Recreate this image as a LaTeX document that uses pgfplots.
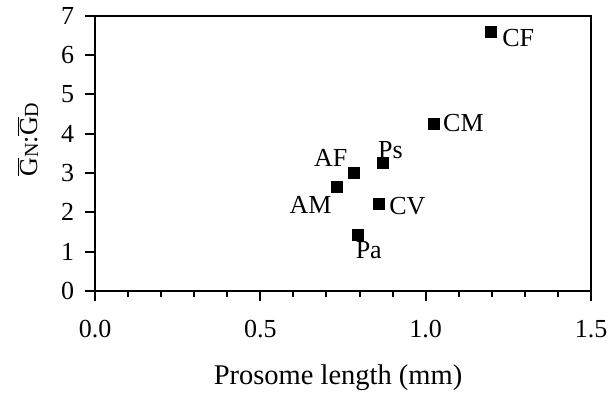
\documentclass[border=0pt]{standalone}
\usepackage{fontspec}
\setmainfont{Liberation Serif}
\usepackage{pgfplots}
\pgfplotsset{compat=1.18}
\begin{document}
\fontsize{26bp}{30bp}\selectfont
\begin{tikzpicture}[x=1bp,y=1bp]
\useasboundingbox (0,0) rectangle (613,396);
\begin{axis}[
  at={(95bp,105bp)}, anchor=south west,
  scale only axis, width=496bp, height=275.3bp,
  xmin=0, xmax=1.5, ymin=0, ymax=7,
  xtick={0,0.5,1,1.5}, minor x tick num=4,
  ytick={0,1,2,3,4,5,6,7},
  tick pos=left, tick align=outside,
  major tick length=10bp, minor tick length=6bp,
  axis line style={line width=2.2bp},
  every tick/.style={line width=2bp, black},
  every minor tick/.style={line width=2bp, black},
  /pgf/number format/assume math mode=true,
  xticklabel style={/pgf/number format/.cd, fixed, fixed zerofill, precision=1, /tikz/.cd, font=\fontsize{26bp}{30bp}\selectfont, yshift=-10bp},
  yticklabel style={font=\fontsize{26bp}{30bp}\selectfont, xshift=-2bp},
  xlabel={Prosome length (mm)},
  xlabel style={at={(axis description cs:0.49,-0.316)}, anchor=center, font=\fontsize{28.5bp}{32bp}\selectfont},
  ylabel={$\overline{\mbox{G}}$\raisebox{-0.1ex}{\fontsize{20bp}{22bp}\selectfont N}:$\overline{\mbox{G}}$\raisebox{-0.1ex}{\fontsize{20bp}{22bp}\selectfont D}},
  ylabel style={at={(axis description cs:-0.135,0.55)}, anchor=center, rotate=0, font=\fontsize{26bp}{30bp}\selectfont},
  clip=false,
]
\addplot[only marks, mark=square*, mark size=5.5bp, black] coordinates {
  (1.197,6.59) (1.024,4.26) (0.870,3.25) (0.782,3.02)
  (0.731,2.64) (0.857,2.21) (0.794,1.42)
};
\begin{scope}[every node/.style={inner sep=0pt, font=\fontsize{26bp}{30bp}\selectfont}]
\node[anchor=west, xshift=11.3bp, yshift=-6.5bp] at (axis cs:1.197,6.59) {CF};
\node[anchor=west, xshift=9.4bp, yshift=0bp] at (axis cs:1.024,4.26) {CM};
\node[anchor=south west, xshift=-4.7bp, yshift=4bp] at (axis cs:0.870,3.25) {Ps};
\node[anchor=south east, xshift=-6bp, yshift=6bp] at (axis cs:0.782,3.02) {AF};
\node[anchor=north east, xshift=-5bp, yshift=-8.7bp] at (axis cs:0.731,2.64) {AM};
\node[anchor=west, xshift=10.7bp, yshift=-2bp] at (axis cs:0.857,2.21) {CV};
\node[anchor=north west, xshift=-2bp, yshift=-6.4bp] at (axis cs:0.794,1.42) {Pa};
\end{scope}
\end{axis}
\end{tikzpicture}
\end{document}
